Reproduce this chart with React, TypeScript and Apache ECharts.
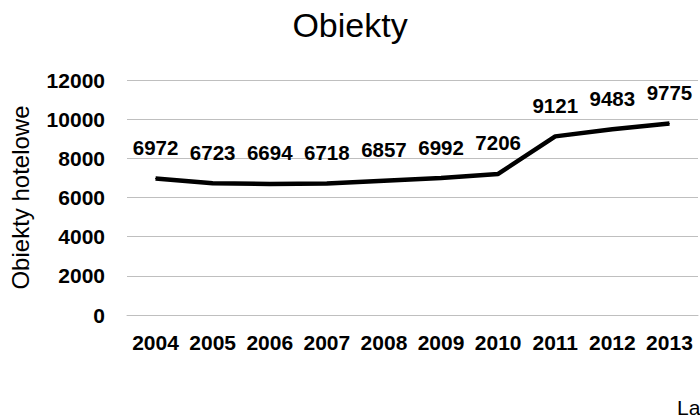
import React, { useEffect, useRef } from "react";
import * as echarts from "echarts";

const years = ["2004", "2005", "2006", "2007", "2008", "2009", "2010", "2011", "2012", "2013"];
const hotels = [6972, 6723, 6694, 6718, 6857, 6992, 7206, 9121, 9483, 9775];
const yTicks = { min: 0, max: 12000, interval: 2000 };
const titleText = "Obiekty";
const yName = "Obiekty hotelowe";
const xName = "Lata";

const FONT = "'Liberation Sans', 'DejaVu Sans', sans-serif";

export default function App() {
  const ref = useRef<HTMLDivElement>(null);
  useEffect(() => {
    if (!ref.current) return;
    const chart = echarts.init(ref.current, null, { renderer: "svg" });
    chart.setOption({
      animation: false,
      backgroundColor: "#ffffff",
      title: {
        text: titleText,
        left: "center",
        top: 3,
        textStyle: { fontFamily: FONT, fontSize: 34, fontWeight: "normal", color: "#000" },
      },
      grid: { left: 126, right: 2, top: 80, bottom: 103 },
      xAxis: {
        type: "category",
        data: years,
        boundaryGap: true,
        axisLine: { show: true, lineStyle: { color: "#bfbfbf", width: 1 } },
        axisTick: { show: false },
        axisLabel: {
          fontFamily: FONT,
          fontSize: 21,
          fontWeight: "bold",
          color: "#000",
          margin: 17,
          interval: 0,
        },
      },
      yAxis: {
        type: "value",
        min: yTicks.min,
        max: yTicks.max,
        interval: yTicks.interval,
        name: yName,
        nameLocation: "middle",
        nameGap: 95,
        nameRotate: 90,
        nameTextStyle: { fontFamily: FONT, fontSize: 24, color: "#000" },
        axisLine: { show: false },
        axisTick: { show: false },
        splitLine: { lineStyle: { color: "#bfbfbf", width: 1 } },
        axisLabel: {
          fontFamily: FONT,
          fontSize: 21,
          fontWeight: "bold",
          color: "#000",
          margin: 22,
          formatter: (v: number) => String(v),
        },
      },
      graphic: [
        {
          type: "text",
          left: 677,
          top: 397,
          style: { text: xName, fontFamily: FONT, fontSize: 21, fill: "#000" },
        },
      ],
      series: [
        {
          type: "line",
          data: hotels,
          showSymbol: true,
          symbol: "circle",
          symbolSize: 1,
          itemStyle: { color: "#000" },
          lineStyle: { color: "#000", width: 4.5 },
          label: {
            show: true,
            position: "top",
            distance: 20,
            fontFamily: FONT,
            fontSize: 20.5,
            fontWeight: "bold",
            color: "#000",
          },
        },
      ],
    });
    return () => chart.dispose();
  }, []);
  return (
    <div
      ref={ref}
      style={{ position: "fixed", left: 0, top: 0, width: 700, height: 418 }}
    />
  );
}
